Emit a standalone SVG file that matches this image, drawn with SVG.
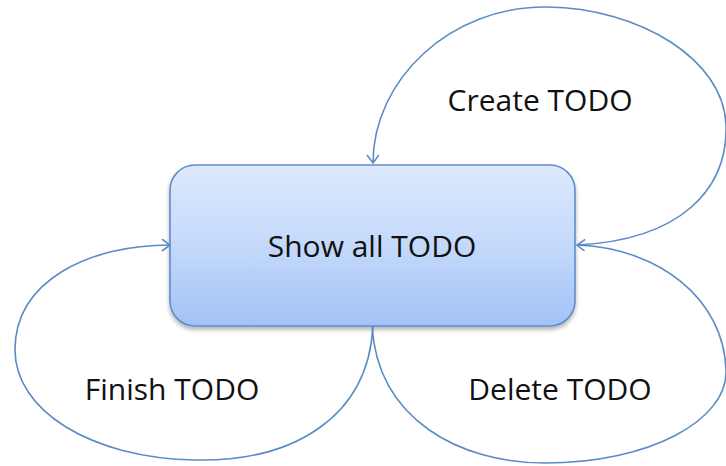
<svg xmlns="http://www.w3.org/2000/svg" width="726" height="466" viewBox="0 0 726 466">
<style>
  .lbl { font-family: "Open Sans", "Noto Sans", sans-serif; font-size: 30px; fill: #111; }
  .conn { fill: none; stroke: #5b8bc6; stroke-width: 1.6; marker-end: url(#arr); }
</style>
<defs>
  <linearGradient id="boxg" x1="0" y1="0" x2="0" y2="1">
    <stop offset="0" stop-color="#dde9fd"/>
    <stop offset="0.5" stop-color="#c4d9fb"/>
    <stop offset="1" stop-color="#a2c2f6"/>
  </linearGradient>
  <filter id="sh" x="-10%" y="-10%" width="120%" height="130%">
    <feGaussianBlur in="SourceAlpha" stdDeviation="2"/>
    <feOffset dx="0" dy="3" result="b"/>
    <feComponentTransfer><feFuncA type="linear" slope="0.3"/></feComponentTransfer>
    <feMerge><feMergeNode/><feMergeNode in="SourceGraphic"/></feMerge>
  </filter>
  <marker id="arr" markerUnits="userSpaceOnUse" markerWidth="14" markerHeight="14" refX="10" refY="6" orient="auto">
    <path d="M2,0 L10,6 L2,12" fill="none" stroke="#5b8bc6" stroke-width="1.6"/>
  </marker>
</defs>
<rect width="726" height="466" fill="#fff"/>
<g id="node-show">
  <rect x="170" y="165" width="405" height="161" rx="25" ry="25" fill="url(#boxg)" stroke="#5f8dc8" stroke-width="1.6" filter="url(#sh)"/>
  <text class="lbl" x="372" y="257" text-anchor="middle">Show all TODO</text>
</g>
<g id="connectors">
  <path id="create" class="conn" d="M577,245 C680,240 728,190 726,125 C724,60 640,8 547,7 C450,6 373,80 373,163"/>
  <path id="finish" class="conn" d="M373,326 C368,420 290,462 195,460 C90,458 15,410 15,350 C15,280 90,245 170,245"/>
  <path id="delete" class="conn" d="M372,326 C378,420 460,463 545,463 C650,463 728,420 726,370 C724,300 660,248 577,245"/>
</g>
<g id="label-create"><text class="lbl" x="540" y="111" text-anchor="middle">Create TODO</text></g>
<g id="label-finish"><text class="lbl" x="172" y="400" text-anchor="middle">Finish TODO</text></g>
<g id="label-delete"><text class="lbl" x="560" y="400" text-anchor="middle">Delete TODO</text></g>
</svg>
